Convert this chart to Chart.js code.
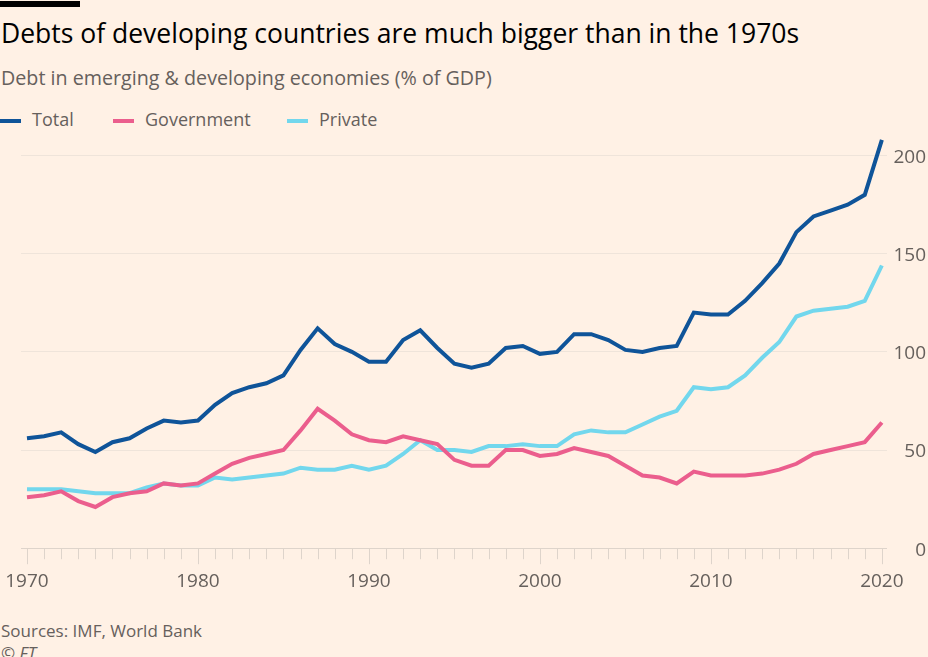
<!DOCTYPE html>
<html>
<head>
<meta charset="utf-8">
<script src="https://cdn.jsdelivr.net/npm/chart.js@4.4.1/dist/chart.umd.min.js"></script>
<style>
  html, body { margin: 0; padding: 0; background: #fff1e5; }
  body { width: 928px; height: 657px; overflow: hidden; position: relative; font-family: "Open Sans", sans-serif; }
  .bar { position: absolute; left: 0; top: 1px; width: 80px; height: 6px; background: #000; }
  .title { position: absolute; left: 1px; top: 15px; font-size: 26.5px; color: #000; white-space: nowrap; }
  .sub { position: absolute; left: 1px; top: 64px; font-size: 19.7px; color: #66605c; white-space: nowrap; }
  .legend { position: absolute; top: 107px; left: 0; font-size: 18px; color: #66605c; }
  .legend span.item { position: absolute; white-space: nowrap; }
  .legend i { position: absolute; top: 12px; width: 21px; height: 4px; }
  .src { position: absolute; left: 1px; top: 619px; font-size: 17px; color: #66605c; white-space: nowrap; }
  .ft { position: absolute; left: 1px; top: 641px; font-size: 17px; color: #66605c; font-style: italic; }
  #wrap { position: absolute; left: 0; top: 110px; width: 928px; height: 505px; }
</style>
</head>
<body>
<div class="bar"></div>
<div class="title">Debts of developing countries are much bigger than in the 1970s</div>
<div class="sub">Debt in emerging &amp; developing economies (% of GDP)</div>
<div class="legend" id="legend"></div>
<div id="wrap"><canvas id="debt-chart"></canvas></div>
<div class="src">Sources: IMF, World Bank</div>
<div class="ft">© FT</div>
<script>
const years = [];
for (let y = 1970; y <= 2020; y++) years.push(y);

const total = [56, 57, 59, 53, 49, 54, 56, 61, 65, 64, 65, 73, 79, 82, 84, 88, 101, 112, 104, 100,
  95, 95, 106, 111, 102, 94, 92, 94, 102, 103, 99, 100, 109, 109, 106, 101, 100, 102, 103, 120,
  119, 119, 126, 135, 145, 161, 169, 172, 175, 180, 208];
const government = [26, 27, 29, 24, 21, 26, 28, 29, 33, 32, 33, 38, 43, 46, 48, 50, 60, 71, 65, 58,
  55, 54, 57, 55, 53, 45, 42, 42, 50, 50, 47, 48, 51, 49, 47, 42, 37, 36, 33, 39,
  37, 37, 37, 38, 40, 43, 48, 50, 52, 54, 64];
const priv = [30, 30, 30, 29, 28, 28, 28, 31, 33, 32, 32, 36, 35, 36, 37, 38, 41, 40, 40, 42,
  40, 42, 48, 55, 50, 50, 49, 52, 52, 53, 52, 52, 58, 60, 59, 59, 63, 67, 70, 82,
  81, 82, 88, 97, 105, 118, 121, 122, 123, 126, 144];

const yTicks = [0, 50, 100, 150, 200];

const series = [
  { label: 'Total', data: total, color: '#0f5499' },
  { label: 'Government', data: government, color: '#eb5e8d' },
  { label: 'Private', data: priv, color: '#72d7ed' }
];

// html legend
const legend = document.getElementById('legend');
const legendX = [0, 113, 287];
series.forEach((s, i) => {
  const el = document.createElement('span');
  el.className = 'item';
  el.style.left = legendX[i] + 'px';
  el.innerHTML = `<i style="left:0;background:${s.color}"></i><span style="position:absolute;left:32px">${s.label}</span>`;
  legend.appendChild(el);
});

// year tick marks below the axis, decades longer
const yearTicks = {
  id: 'yearTicks',
  afterDraw(chart) {
    const ctx = chart.ctx;
    const x = chart.scales.x;
    const bottom = chart.chartArea.bottom;
    ctx.save();
    ctx.strokeStyle = '#ded4cb';
    ctx.lineWidth = 1;
    years.forEach(y => {
      const px = Math.round(x.getPixelForValue(y)) + 0.5;
      ctx.beginPath();
      ctx.moveTo(px, bottom);
      ctx.lineTo(px, bottom + (y % 10 === 0 ? 16 : 11));
      ctx.stroke();
    });
    ctx.restore();
  }
};

const ctx = document.getElementById('debt-chart');

new Chart(ctx, {
  type: 'line',
  data: {
    datasets: series.map(s => ({
      label: s.label,
      data: s.data.map((v, i) => ({ x: years[i], y: v })),
      borderColor: s.color,
      backgroundColor: s.color,
      borderWidth: 4,
      pointRadius: 0,
      tension: 0
    }))
  },
  options: {
    responsive: true,
    maintainAspectRatio: false,
    animation: false,
    layout: { padding: { left: 21, right: 2, top: 22, bottom: 0 } },
    plugins: {
      legend: { display: false },
      tooltip: { enabled: false }
    },
    scales: {
      x: {
        type: 'linear',
        min: 1969.65,
        max: 2020.3,
        afterFit: s => { s.paddingLeft = 0; s.paddingRight = 0; },
        grid: { display: false, drawTicks: false },
        border: { display: false },
        ticks: {
          includeBounds: false,
          stepSize: 1,
          autoSkip: false,
          maxRotation: 0,
          padding: 22,
          color: '#66605c',
          font: { family: 'Open Sans', size: 19 },
          callback: v => (v % 10 === 0 ? String(v) : '')
        }
      },
      y: {
        position: 'right',
        min: 0,
        max: 212,
        afterBuildTicks: axis => { axis.ticks = yTicks.map(v => ({ value: v })); },
        afterFit: axis => { axis.width = 39; },
        grid: {
          color: ctx => (ctx.tick && ctx.tick.value === 0 ? '#ded4cb' : '#efe4da'),
          lineWidth: 1,
          drawTicks: false
        },
        border: { display: false },
        ticks: {
          padding: 0,
          labelOffset: 2,
          crossAlign: 'far',
          color: '#66605c',
          font: { family: 'Open Sans', size: 19 }
        }
      }
    }
  },
  plugins: [yearTicks]
});
</script>
</body>
</html>
